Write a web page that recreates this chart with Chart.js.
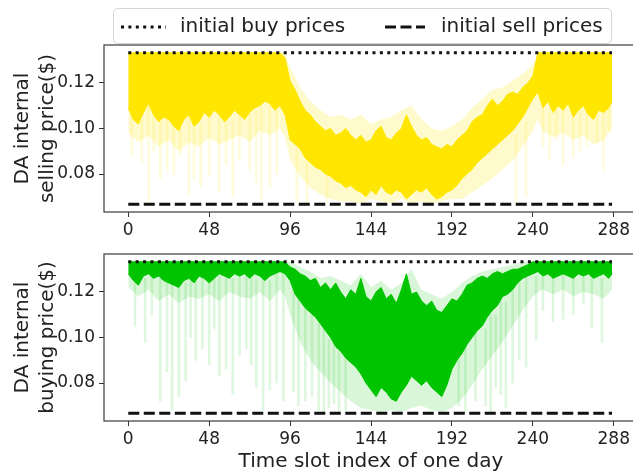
<!DOCTYPE html>
<html>
<head>
<meta charset="utf-8">
<script src="https://cdn.jsdelivr.net/npm/chart.js@4.4.1/dist/chart.umd.min.js"></script>
<style>
  html, body { margin: 0; padding: 0; background: #fff; overflow: hidden; width: 633px; height: 474px; }
  canvas { position: absolute; left: 0; }
  #sellChart { top: 0; }
  #buyChart { top: 237px; }
</style>
</head>
<body>
<canvas id="sellChart" width="660" height="237"></canvas>
<canvas id="buyChart" width="660" height="237"></canvas>
<script>
// slots where the faint haze was read (coarse) and where the dense band edges were read (fine)
const SLOTS = [0, 6, 12, 18, 24, 30, 36, 42, 48, 54, 60, 66, 72, 78, 84, 90, 93, 96, 102, 108, 114, 120, 126, 132, 138, 144, 150, 156, 162, 168, 174, 180, 186, 192, 198, 204, 210, 216, 222, 228, 234, 240, 243, 246, 252, 258, 264, 270, 276, 282, 287];
const FINE_SLOTS = [0, 3, 6, 9, 12, 15, 18, 21, 24, 27, 30, 33, 36, 39, 42, 45, 48, 51, 54, 57, 60, 63, 66, 69, 72, 75, 78, 81, 84, 87, 90, 93, 96, 99, 102, 105, 108, 111, 114, 117, 120, 123, 126, 129, 132, 135, 138, 141, 144, 147, 150, 153, 156, 159, 162, 165, 168, 171, 174, 177, 180, 183, 186, 189, 192, 195, 198, 201, 204, 207, 210, 213, 216, 219, 222, 225, 228, 231, 234, 237, 240, 243, 246, 249, 252, 255, 258, 261, 264, 267, 270, 273, 276, 279, 282, 285, 287];
const X_TICKS = [0, 48, 96, 144, 192, 240, 288];
const Y_TICKS = [0.08, 0.10, 0.12];

const INIT_SLOTS = [0, 287];
const INIT_BUY = [0.1333, 0.1333];
const INIT_SELL = [0.0667, 0.0667];

// selling price (top panel)
const sellHigh = [0.1333, 0.1333, 0.1333, 0.1333, 0.1333, 0.1333, 0.1333, 0.1333, 0.1333, 0.1333, 0.1333, 0.1333, 0.1333, 0.1333, 0.1333, 0.1333, 0.1333, 0.1333, 0.1333, 0.1333, 0.1333, 0.1333, 0.1333, 0.1333, 0.1333, 0.1333, 0.1333, 0.1333, 0.1333, 0.1333, 0.1333,
  0.131, 0.121, 0.117, 0.112, 0.108, 0.106, 0.103, 0.101, 0.099, 0.100, 0.097, 0.098, 0.100, 0.097, 0.095, 0.097, 0.094, 0.095, 0.099, 0.101, 0.096, 0.095, 0.098, 0.100, 0.106, 0.101, 0.097, 0.095, 0.096, 0.093, 0.092, 0.091, 0.093, 0.092, 0.095, 0.097, 0.099, 0.103, 0.105, 0.106, 0.110, 0.113, 0.110, 0.112, 0.115, 0.116, 0.115, 0.118, 0.120, 0.123,
  0.1333, 0.1333, 0.1333, 0.1333, 0.1333, 0.1333, 0.1333, 0.1333, 0.1333, 0.1333, 0.1333, 0.1333, 0.1333, 0.1333, 0.1333, 0.1333];
const sellLow = [0.109, 0.104, 0.102, 0.107, 0.111, 0.106, 0.103, 0.105, 0.104, 0.101, 0.099, 0.104, 0.106, 0.101, 0.103, 0.107, 0.105, 0.108, 0.106, 0.103, 0.105, 0.108, 0.106, 0.104, 0.107, 0.109, 0.110, 0.112, 0.111, 0.108, 0.110,
  0.106, 0.095, 0.093, 0.091, 0.087, 0.085, 0.083, 0.082, 0.080, 0.079, 0.077, 0.076, 0.074, 0.075, 0.073, 0.072, 0.070, 0.073, 0.071, 0.075, 0.072, 0.071, 0.073, 0.072, 0.069, 0.071, 0.073, 0.072, 0.074, 0.071, 0.069, 0.070, 0.072, 0.073, 0.075, 0.078, 0.080, 0.082, 0.085, 0.087, 0.089, 0.091, 0.093, 0.095, 0.097, 0.099, 0.102, 0.105, 0.109, 0.113, 0.116,
  0.109, 0.112, 0.107, 0.110, 0.108, 0.111, 0.105, 0.108, 0.110, 0.106, 0.104, 0.108, 0.107, 0.109, 0.112];
const sellHazeHigh = [0.1333, 0.1333, 0.1333, 0.1333, 0.1333, 0.1333, 0.1333, 0.1333, 0.1333, 0.1333, 0.1333, 0.1333, 0.1333, 0.1333, 0.1333, 0.1333, 0.1333, 0.127, 0.118, 0.112, 0.108, 0.105, 0.106, 0.104, 0.106, 0.102, 0.104, 0.105, 0.108, 0.110, 0.104, 0.100, 0.099, 0.101, 0.104, 0.109, 0.113, 0.117, 0.118, 0.121, 0.124, 0.128, 0.1333, 0.1333, 0.1333, 0.1333, 0.1333, 0.1333, 0.1333, 0.1333, 0.1333];
const sellHazeLow = [0.098, 0.094, 0.097, 0.092, 0.095, 0.090, 0.094, 0.092, 0.096, 0.093, 0.095, 0.097, 0.094, 0.099, 0.097, 0.100, 0.096, 0.086, 0.079, 0.074, 0.071, 0.069, 0.068, 0.068, 0.067, 0.069, 0.068, 0.067, 0.069, 0.067, 0.068, 0.067, 0.068, 0.069, 0.069, 0.072, 0.075, 0.078, 0.082, 0.086, 0.092, 0.099, 0.104, 0.099, 0.096, 0.098, 0.095, 0.097, 0.093, 0.095, 0.100];
const sellStreakSlot = [2, 12, 19, 27, 36, 43, 48, 54, 62, 72, 79, 84, 100, 106, 118, 230, 236, 250, 258, 264, 272, 282, 8, 15, 23, 31, 39, 58, 66, 76, 88, 246, 254, 268, 278, 285];
const sellStreakLow = [0.088, 0.068, 0.078, 0.080, 0.071, 0.074, 0.079, 0.072, 0.070, 0.082, 0.069, 0.074, 0.068, 0.067, 0.067, 0.067, 0.070, 0.086, 0.084, 0.088, 0.092, 0.082, 0.085, 0.090, 0.082, 0.088, 0.078, 0.084, 0.086, 0.076, 0.080, 0.092, 0.095, 0.090, 0.094, 0.099];
const sellStreakHigh = [0.108, 0.110, 0.104, 0.106, 0.105, 0.102, 0.106, 0.108, 0.104, 0.106, 0.110, 0.112, 0.091, 0.085, 0.080, 0.097, 0.103, 0.107, 0.109, 0.106, 0.108, 0.107, 0.104, 0.106, 0.104, 0.100, 0.102, 0.104, 0.106, 0.108, 0.108, 0.109, 0.108, 0.108, 0.106, 0.109];

// buying price (bottom panel)
const buyHigh = [0.1333, 0.1333, 0.1333, 0.1333, 0.1333, 0.1333, 0.1333, 0.1333, 0.1333, 0.1333, 0.1333, 0.1333, 0.1333, 0.1333, 0.1333, 0.1333, 0.1333, 0.1333, 0.1333, 0.1333, 0.1333, 0.1333, 0.1333, 0.1333, 0.1333, 0.1333, 0.1333, 0.1333, 0.1333, 0.1333, 0.1333,
  0.1333, 0.131, 0.130, 0.128, 0.127, 0.125, 0.126, 0.122, 0.124, 0.121, 0.124, 0.120, 0.117, 0.121, 0.119, 0.126, 0.118, 0.116, 0.120, 0.122, 0.117, 0.119, 0.115, 0.121, 0.128, 0.119, 0.120, 0.116, 0.114, 0.116, 0.112, 0.111, 0.114, 0.117, 0.116, 0.119, 0.123, 0.124, 0.126, 0.127, 0.126, 0.128, 0.129, 0.128, 0.129, 0.130, 0.130, 0.131, 0.132,
  0.1333, 0.1333, 0.1333, 0.1333, 0.1333, 0.1333, 0.1333, 0.1333, 0.1333, 0.1333, 0.1333, 0.1333, 0.1333, 0.1333, 0.1333, 0.1333, 0.1333];
const buyLow = [0.128, 0.125, 0.123, 0.127, 0.128, 0.126, 0.127, 0.125, 0.124, 0.123, 0.122, 0.125, 0.126, 0.124, 0.127, 0.126, 0.124, 0.126, 0.128, 0.127, 0.126, 0.128, 0.127, 0.128, 0.126, 0.128, 0.127, 0.125, 0.127, 0.128, 0.129,
  0.128, 0.125, 0.119, 0.116, 0.113, 0.111, 0.109, 0.106, 0.103, 0.100, 0.096, 0.094, 0.091, 0.089, 0.087, 0.084, 0.080, 0.077, 0.074, 0.078, 0.076, 0.073, 0.072, 0.076, 0.079, 0.083, 0.081, 0.079, 0.081, 0.078, 0.076, 0.074, 0.079, 0.086, 0.090, 0.093, 0.097, 0.100, 0.103, 0.105, 0.109, 0.112, 0.114, 0.118, 0.119, 0.121, 0.124, 0.126, 0.127, 0.128, 0.129,
  0.127, 0.128, 0.126, 0.127, 0.128, 0.127, 0.126, 0.128, 0.127, 0.128, 0.126, 0.127, 0.128, 0.126, 0.128];
const buyHazeHigh = [0.1333, 0.1333, 0.1333, 0.1333, 0.1333, 0.1333, 0.1333, 0.1333, 0.1333, 0.1333, 0.1333, 0.1333, 0.1333, 0.1333, 0.1333, 0.1333, 0.1333, 0.1333, 0.131, 0.129, 0.126, 0.127, 0.125, 0.123, 0.128, 0.122, 0.125, 0.121, 0.124, 0.130, 0.121, 0.119, 0.117, 0.120, 0.124, 0.127, 0.129, 0.130, 0.131, 0.132, 0.1333, 0.1333, 0.1333, 0.1333, 0.1333, 0.1333, 0.1333, 0.1333, 0.1333, 0.1333, 0.1333];
const buyHazeLow = [0.122, 0.118, 0.121, 0.116, 0.119, 0.115, 0.118, 0.117, 0.119, 0.116, 0.120, 0.118, 0.117, 0.120, 0.116, 0.121, 0.118, 0.110, 0.098, 0.090, 0.085, 0.080, 0.076, 0.072, 0.069, 0.068, 0.067, 0.068, 0.067, 0.069, 0.070, 0.068, 0.067, 0.069, 0.073, 0.079, 0.086, 0.092, 0.098, 0.105, 0.112, 0.118, 0.120, 0.121, 0.119, 0.121, 0.118, 0.120, 0.119, 0.117, 0.121];
const buyStreakSlot = [4, 19, 26, 30, 34, 40, 48, 54, 58, 62, 70, 76, 80, 84, 92, 98, 105, 113, 119, 125, 200, 212, 218, 224, 236, 242, 252, 264, 275, 281, 10, 14, 23, 37, 44, 51, 66, 73, 88, 101, 109, 116, 122, 129, 196, 206, 215, 221, 228, 232, 246, 258, 270];
const buyStreakLow = [0.105, 0.072, 0.068, 0.074, 0.081, 0.090, 0.088, 0.083, 0.086, 0.075, 0.095, 0.078, 0.068, 0.077, 0.072, 0.076, 0.072, 0.068, 0.069, 0.067, 0.067, 0.070, 0.078, 0.069, 0.087, 0.099, 0.107, 0.110, 0.104, 0.098, 0.098, 0.110, 0.085, 0.100, 0.095, 0.104, 0.092, 0.088, 0.080, 0.070, 0.074, 0.067, 0.071, 0.068, 0.070, 0.072, 0.067, 0.075, 0.080, 0.090, 0.112, 0.108, 0.115];
const buyStreakHigh = [0.124, 0.126, 0.124, 0.122, 0.124, 0.125, 0.124, 0.127, 0.126, 0.126, 0.127, 0.125, 0.127, 0.125, 0.128, 0.122, 0.113, 0.106, 0.099, 0.094, 0.097, 0.104, 0.110, 0.116, 0.126, 0.127, 0.126, 0.126, 0.128, 0.126, 0.126, 0.127, 0.125, 0.125, 0.126, 0.126, 0.127, 0.126, 0.128, 0.118, 0.111, 0.104, 0.097, 0.091, 0.092, 0.102, 0.110, 0.116, 0.121, 0.124, 0.127, 0.128, 0.127];

const FONT = 'DejaVu Sans';

function pts(xs, ys) {
  return xs.map((x, i) => ({ x: x, y: ys[i] }));
}

function bars(xs, lo, hi) {
  return xs.map((x, i) => ({ x: x, y: [lo[i], hi[i]] }));
}

// four spines like matplotlib
const framePlugin = {
  id: 'frame',
  afterDatasetsDraw(chart) {
    const a = chart.chartArea;
    const ctx = chart.ctx;
    ctx.save();
    ctx.strokeStyle = '#3a3a3a';
    ctx.lineWidth = 1.2;
    ctx.strokeRect(a.left, a.top, a.right - a.left, a.bottom - a.top);
    ctx.restore();
  }
};

// legend box above the top panel
const legendPlugin = {
  id: 'topLegend',
  afterDraw(chart) {
    if (!chart.options.plugins.topLegend.show) return;
    const ctx = chart.ctx;
    const ds = chart.data.datasets;
    const buy = ds.find(d => d.label === 'initial buy prices');
    const sell = ds.find(d => d.label === 'initial sell prices');
    ctx.save();
    ctx.fillStyle = 'rgba(255,255,255,0.9)';
    ctx.strokeStyle = '#d6d6d6';
    ctx.lineWidth = 1;
    ctx.beginPath();
    ctx.roundRect(113.5, 8.5, 498, 35, 4);
    ctx.fill();
    ctx.stroke();

    ctx.strokeStyle = '#111';
    ctx.lineWidth = 3;
    ctx.setLineDash(buy.borderDash);
    ctx.beginPath();
    ctx.moveTo(121, 27);
    ctx.lineTo(166, 27);
    ctx.stroke();
    ctx.setLineDash(sell.borderDash);
    ctx.beginPath();
    ctx.moveTo(385, 27);
    ctx.lineTo(425, 27);
    ctx.stroke();
    ctx.setLineDash([]);

    ctx.fillStyle = '#222';
    ctx.font = '20px "' + FONT + '"';
    ctx.textBaseline = 'middle';
    ctx.fillText(buy.label, 180, 27);
    ctx.fillText(sell.label, 441, 27);
    ctx.restore();
  }
};

function makeChart(canvasId, c) {
  return new Chart(document.getElementById(canvasId), {
    type: 'line',
    data: {
      datasets: [
        { data: pts(SLOTS, c.hazeHigh), borderColor: 'rgba(0,0,0,0)', borderWidth: 1, pointRadius: 0, fill: false, order: 3 },
        { data: pts(SLOTS, c.hazeLow), borderColor: 'rgba(0,0,0,0)', borderWidth: 1, pointRadius: 0, fill: '-1', backgroundColor: c.haze, order: 3 },
        { type: 'bar', data: bars(c.streakSlot, c.streakLow, c.streakHigh), backgroundColor: c.streak, borderWidth: 0, barThickness: 2, order: 2 },
        { data: pts(FINE_SLOTS, c.high), borderColor: c.solid, borderWidth: 1, pointRadius: 0, fill: false, order: 1 },
        { data: pts(FINE_SLOTS, c.low), borderColor: c.solid, borderWidth: 1, pointRadius: 0, fill: '-1', backgroundColor: c.solid, order: 1 },
        { label: 'initial buy prices', data: pts(INIT_SLOTS, INIT_BUY), borderColor: '#111', borderWidth: 3, borderDash: [3, 4.4], pointRadius: 0, fill: false, order: 0 },
        { label: 'initial sell prices', data: pts(INIT_SLOTS, INIT_SELL), borderColor: '#111', borderWidth: 3, borderDash: [11, 4.5], pointRadius: 0, fill: false, order: 0 }
      ]
    },
    options: {
      responsive: false,
      animation: false,
      devicePixelRatio: 1,
      layout: { padding: { left: 0, right: 22, top: c.padTop, bottom: 0 } },
      plugins: {
        legend: { display: false },
        tooltip: { enabled: false },
        topLegend: { show: c.legend }
      },
      scales: {
        x: {
          type: 'linear',
          offset: false,
          min: -14.4,
          max: 302.4,
          afterBuildTicks: s => { s.ticks = X_TICKS.map(v => ({ value: v })); },
          afterFit: s => { s.height = c.xHeight; },
          ticks: { font: { family: FONT, size: 17 }, color: '#222', padding: 3, maxRotation: 0, autoSkip: false },
          grid: { offset: false, drawOnChartArea: false, drawTicks: true, tickLength: 5, color: '#333' },
          border: { display: false },
          title: {
            display: c.xTitle,
            text: 'Time slot index of one day',
            font: { family: FONT, size: 20 },
            color: '#222',
            padding: { top: 0, bottom: 0 }
          }
        },
        y: {
          min: 0.0633,
          max: 0.1367,
          afterBuildTicks: s => { s.ticks = Y_TICKS.map(v => ({ value: v })); },
          afterFit: s => { s.width = 104; },
          ticks: { font: { family: FONT, size: 17 }, color: '#222', padding: 4, callback: v => v.toFixed(2) },
          grid: { drawOnChartArea: false, drawTicks: true, tickLength: 5, color: '#333' },
          border: { display: false },
          title: {
            display: true,
            text: c.yTitle,
            font: { family: FONT, size: 20, lineHeight: 1.25 },
            color: '#222',
            padding: { top: 10, bottom: 0 }
          }
        }
      }
    },
    plugins: [framePlugin, legendPlugin]
  });
}

makeChart('sellChart', {
  high: sellHigh, low: sellLow,
  hazeHigh: sellHazeHigh, hazeLow: sellHazeLow,
  streakSlot: sellStreakSlot, streakLow: sellStreakLow, streakHigh: sellStreakHigh,
  solid: '#ffe600', haze: 'rgba(255,230,0,0.2)', streak: 'rgba(255,230,0,0.14)',
  yTitle: ['DA internal', 'selling price($)'],
  padTop: 45, xHeight: 25, xTitle: false, legend: true
});

makeChart('buyChart', {
  high: buyHigh, low: buyLow,
  hazeHigh: buyHazeHigh, hazeLow: buyHazeLow,
  streakSlot: buyStreakSlot, streakLow: buyStreakLow, streakHigh: buyStreakHigh,
  solid: '#00c400', haze: 'rgba(0,196,0,0.15)', streak: 'rgba(0,196,0,0.13)',
  yTitle: ['DA internal', 'buying price($)'],
  padTop: 17, xHeight: 53, xTitle: true, legend: false
});
</script>
</body>
</html>
